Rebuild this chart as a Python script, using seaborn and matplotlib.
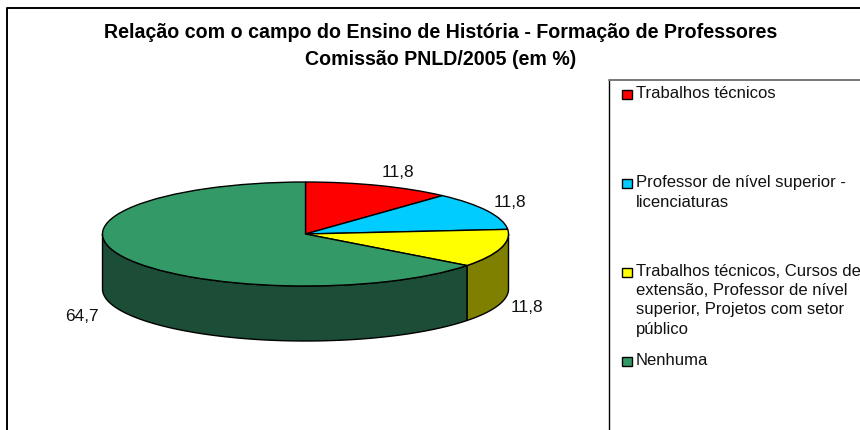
# recreate the PNLD/2005 3D pie chart

import numpy as np
import matplotlib.pyplot as plt
import matplotlib.patches as mpatches
import seaborn as sns

sns.set_style("white")
plt.rcParams['font.family'] = ['Liberation Sans', 'DejaVu Sans']

#%% DATA

title_lines = ["Relação com o campo do Ensino de História - Formação de Professores",
               "Comissão PNLD/2005 (em %)"]
categories = ["Trabalhos técnicos",
              "Professor de nível superior -\nlicenciaturas",
              "Trabalhos técnicos, Cursos de\nextensão, Professor de nível\nsuperior, Projetos com setor\npúblico",
              "Nenhuma"]
values = [11.8, 11.8, 11.8, 64.7]
value_labels = ["11,8", "11,8", "11,8", "64,7"]
top_colors = ["#FF0000", "#00CCFF", "#FFFF00", "#339966"]
side_colors = ["#800000", "#006680", "#808000", "#1C4D36"]

#%% FIGURE

W, H = 860, 431
fig = plt.figure(figsize=(W/100, H/100), dpi=100, facecolor="white")

# background axes in pixel coordinates for frame, legend box and labels
bg = fig.add_axes([0, 0, 1, 1])
bg.set_xlim(0, W)
bg.set_ylim(H, 0)
bg.axis("off")
bg.plot([6.5, 6.5, W], [H, 8.5, 8.5], color="black", lw=1.4)
bg.plot([608.5, 608.5], [H, 80.5], color="black", lw=1)
bg.plot([608.5, W], [80.5, 80.5], color="#777777", lw=1.4)

bg.text(440.5, 32, title_lines[0], ha="center", va="center",
        fontsize=14.1, fontweight="bold", color="black")
bg.text(440.5, 59.5, title_lines[1], ha="center", va="center",
        fontsize=14.1, fontweight="bold", color="black")

#%% PIE

# top of the pie is a real pie stretched flat, side wall comes from the same angles
cx, cy, rx, ry, depth = 305.5, 235, 203, 52, 55
ax = fig.add_axes([(cx-rx)/W, 1-(cy+ry)/H, 2*rx/W, 2*ry/H])

fractions = np.array(values)/sum(values)
edges = np.concatenate([[0], np.cumsum(fractions)])*2*np.pi
d = depth/ry

for i in range(len(values)):
    # angle measured clockwise from the top, side only shows on the lower half
    start = max(edges[i], np.pi/2)
    end = min(edges[i+1], 3*np.pi/2)
    if end <= start:
        continue
    t = np.linspace(start, end, 80)
    x = np.sin(t)
    y = np.cos(t)
    ax.fill(np.concatenate([x, x[::-1]]), np.concatenate([y, y[::-1]-d]),
            facecolor=side_colors[i], edgecolor="black", lw=1, clip_on=False)

wedges, _ = ax.pie(values, colors=top_colors, startangle=90, counterclock=False,
                   radius=1, wedgeprops={"edgecolor": "black", "linewidth": 1, "clip_on": False})
ax.set_aspect("auto")
ax.set_xlim(-1, 1)
ax.set_ylim(-1, 1)
ax.patch.set_alpha(0)

#%% VALUE LABELS

label_x = [398, 510, 527, 82]
label_y = [173, 203, 308, 317]
for s, x, y in zip(value_labels, label_x, label_y):
    bg.text(x, y, s, ha="center", va="center", fontsize=12.4, color="#111111")

#%% LEGEND

legend_y = [95.5, 184.5, 273, 362.5]
for name, col, y in zip(categories, top_colors, legend_y):
    bg.add_patch(mpatches.Rectangle((621.5, y-4.5), 10, 9, facecolor=col,
                                    edgecolor="black", lw=1))
    bg.text(636, y-9, name, ha="left", va="top", fontsize=11.95,
            color="#111111", linespacing=1.35)

fig.savefig("out.png", dpi=100)
